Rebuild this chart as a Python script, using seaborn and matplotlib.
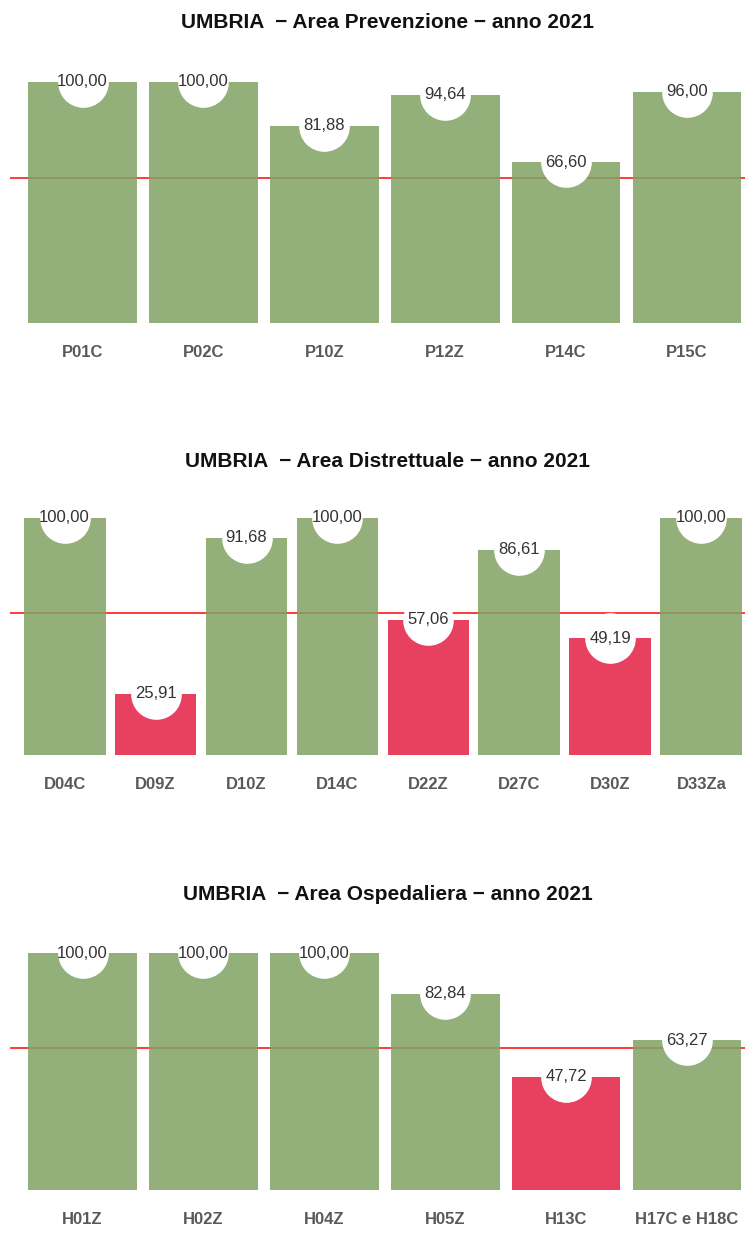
import matplotlib
matplotlib.use("Agg")
import matplotlib.pyplot as plt
import seaborn as sns
import pandas as pd

sns.set_theme(style="white")
plt.rcParams['font.family'] = ['Liberation Sans', 'DejaVu Sans']

# ---- data ----
region = "UMBRIA"
year = 2021
threshold = 60

prev_labels = ["P01C", "P02C", "P10Z", "P12Z", "P14C", "P15C"]
prev_values = [100.00, 100.00, 81.88, 94.64, 66.60, 96.00]

distr_labels = ["D04C", "D09Z", "D10Z", "D14C", "D22Z", "D27C", "D30Z", "D33Za"]
distr_values = [100.00, 25.91, 91.68, 100.00, 57.06, 86.61, 49.19, 100.00]

osp_labels = ["H01Z", "H02Z", "H04Z", "H05Z", "H13C", "H17C e H18C"]
osp_values = [100.00, 100.00, 100.00, 82.84, 47.72, 63.27]

panels = [
    ("Area Prevenzione", prev_labels, prev_values),
    ("Area Distrettuale", distr_labels, distr_values),
    ("Area Ospedaliera", osp_labels, osp_values),
]

GREEN = "#80A263"
RED = "#E41E43"

W, H = 745, 1241
fig = plt.figure(figsize=(W / 100, H / 100), dpi=100)

# pixel layout: (title_y, axes_bottom_px, px_per_unit)
layout = [(22, 323, 2.41), (462, 755, 2.37), (895, 1190, 2.37)]
YMAX = 110
left_px, right_px = 10, 745

for (name, labels, values), (ty, bot, ppu) in zip(panels, layout):
    h_px = YMAX * ppu
    ax = fig.add_axes([left_px / W, (H - bot) / H, (right_px - left_px) / W, h_px / H])
    df = pd.DataFrame({"cat": labels, "val": values})
    colors = [GREEN if v >= threshold else RED for v in values]
    sns.barplot(data=df, x="cat", y="val", hue="cat", palette=colors, legend=False,
                width=0.9, alpha=0.85, saturation=1, linewidth=0, ax=ax, zorder=2)
    ax.axhline(threshold, color="#FF1A1A", lw=1.2, zorder=1)
    xs = list(range(len(labels)))
    ax.scatter(xs, values, s=1330, c="white", zorder=3, clip_on=False, linewidths=0)
    for x, v in zip(xs, values):
        ax.text(x, v, f"{v:.2f}".replace(".", ","), ha="center", va="center",
                fontsize=12, color="#333333", zorder=4)
    ax.set_xlim(-0.6, len(labels) - 0.52)
    ax.set_ylim(0, YMAX)
    ax.set_xlabel("")
    ax.set_ylabel("")
    ax.set_yticks([])
    for s in ax.spines.values():
        s.set_visible(False)
    ax.tick_params(axis="x", length=0, pad=16)
    ax.set_xticks(xs)
    ax.set_xticklabels(labels, fontsize=12, fontweight="bold", color="#595959")
    fig.text(388 / W, 1 - ty / H, f"{region}  \u2212 {name} \u2212 anno {year}",
             ha="center", va="center", fontsize=15, fontweight="bold", color="#111111")

fig.savefig("out.png", dpi=100, facecolor="white")
